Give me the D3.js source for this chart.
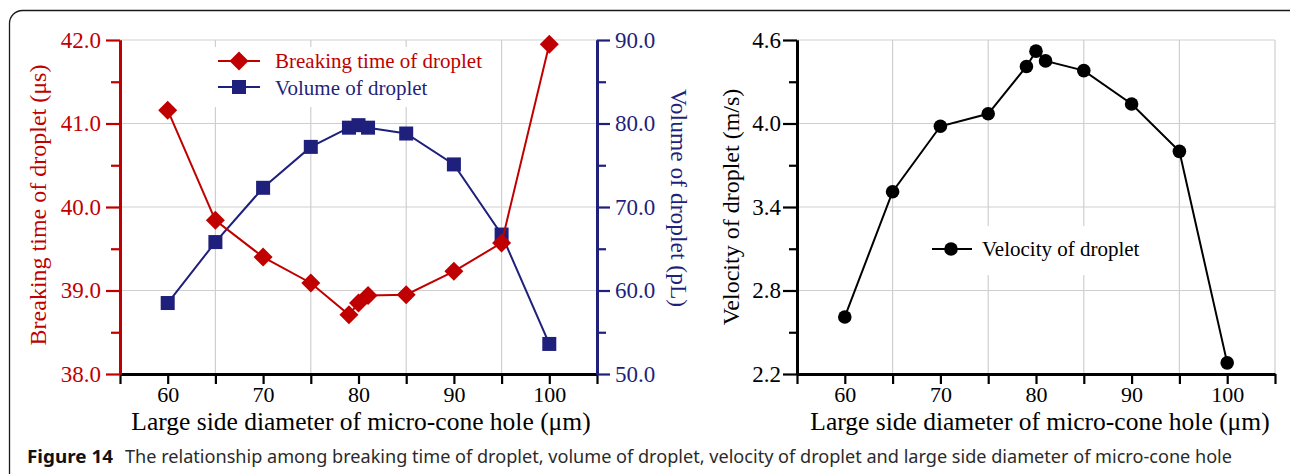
<!DOCTYPE html>
<html>
<head>
<meta charset="utf-8">
<script src="https://cdn.jsdelivr.net/npm/d3@7"></script>
<style>
  html, body { margin: 0; padding: 0; background: #ffffff; }
  svg { display: block; }
</style>
</head>
<body>
<svg id="chart" width="1290" height="474"></svg>
<script>
// ---------------- data ----------------
const diameters = [60, 65, 70, 75, 79, 80, 81, 85, 90, 95, 100];
const breakingTime = [41.16, 39.84, 39.40, 39.09, 38.71, 38.85, 38.94, 38.95, 39.23, 39.57, 41.95];
const dropletVolume = [58.5, 65.8, 72.3, 77.2, 79.5, 79.8, 79.5, 78.8, 75.1, 66.7, 53.6];
const dropletVelocity = [2.61, 3.51, 3.98, 4.07, 4.41, 4.52, 4.45, 4.38, 4.14, 3.80, 2.28];

const xDomain = [55, 105];
const xLabelTicks = [60, 70, 80, 90, 100];
const xAllTicks = [55, 60, 65, 70, 75, 80, 85, 90, 95, 100, 105];
const xGridTicks = [65, 75, 85, 95];
const timeTicks = [38, 39, 40, 41, 42];
const timeMinorTicks = [38.5, 39.5, 40.5, 41.5];
const volumeTicks = [50, 60, 70, 80, 90];
const volumeMinorTicks = [55, 65, 75, 85];
const velocityTicks = [2.2, 2.8, 3.4, 4.0, 4.6];
const velocityMinorTicks = [2.5, 3.1, 3.7, 4.3];

const xTitle = "Large side diameter of micro-cone hole (\u03bcm)";
const timeTitle = "Breaking time of droplet (\u03bcs)";
const volumeTitle = "Volume of droplet (pL)";
const velocityTitle = "Velocity of droplet (m/s)";
const legendTime = "Breaking time of droplet";
const legendVolume = "Volume of droplet";
const legendVelocity = "Velocity of droplet";
const captionBold = "Figure 14";
const captionText = "The relationship among breaking time of droplet, volume of droplet, velocity of droplet and large side diameter of micro-cone hole";

// ---------------- styles ----------------
const RED = "#c00000";
const BLUE = "#1f1f7c";
const BLACK = "#000000";
const GRID = "#cfcfcf";
const SERIF = "'Liberation Serif', 'Times New Roman', serif";

const svg = d3.select("#chart");

// outer frame
svg.append("rect")
  .attr("x", 9.5).attr("y", 10.5)
  .attr("width", 1293).attr("height", 520)
  .attr("rx", 13).attr("ry", 13)
  .attr("fill", "none").attr("stroke", "#1a1a1a").attr("stroke-width", 1.3);

// ---------------- helpers ----------------
function styleAxis(g, color, width, fontSize) {
  g.select(".domain").attr("stroke", color).attr("stroke-width", width);
  g.selectAll(".tick line").attr("stroke", color).attr("stroke-width", 2.2);
  g.selectAll(".tick text")
    .attr("fill", color)
    .style("font-family", SERIF)
    .style("font-size", fontSize + "px");
}

// ---------------- LEFT CHART ----------------
const L = { left: 120, right: 597, top: 40, bottom: 374 };
const xL = d3.scaleLinear().domain(xDomain).range([L.left, L.right]);
const yT = d3.scaleLinear().domain([38, 42]).range([L.bottom, L.top]);
const yV = d3.scaleLinear().domain([50, 90]).range([L.bottom, L.top]);

const gl = svg.append("g");

// grid
gl.selectAll("line.hg").data(timeTicks.filter(d => d !== 38)).enter().append("line")
  .attr("x1", L.left).attr("x2", L.right)
  .attr("y1", d => yT(d)).attr("y2", d => yT(d))
  .attr("stroke", GRID).attr("stroke-width", 1.2);
gl.selectAll("line.vg").data(xGridTicks).enter().append("line")
  .attr("x1", d => xL(d)).attr("x2", d => xL(d))
  .attr("y1", L.top).attr("y2", L.bottom)
  .attr("stroke", GRID).attr("stroke-width", 1.2);

// legend background
gl.append("rect").attr("x", 205).attr("y", 47).attr("width", 292).attr("height", 60).attr("fill", "#fff");

// series: volume (blue)
const lineV = d3.line().x((d, i) => xL(diameters[i])).y(d => yV(d));
gl.append("path").datum(dropletVolume).attr("d", lineV)
  .attr("fill", "none").attr("stroke", BLUE).attr("stroke-width", 2);
gl.selectAll("rect.sq").data(dropletVolume).enter().append("rect")
  .attr("x", (d, i) => xL(diameters[i]) - 7).attr("y", d => yV(d) - 7)
  .attr("width", 14).attr("height", 14).attr("fill", BLUE);

// series: breaking time (red)
const lineT = d3.line().x((d, i) => xL(diameters[i])).y(d => yT(d));
gl.append("path").datum(breakingTime).attr("d", lineT)
  .attr("fill", "none").attr("stroke", RED).attr("stroke-width", 2);
const diamond = d3.symbol().type(d3.symbolDiamond2).size(230);
gl.selectAll("path.dm").data(breakingTime).enter().append("path")
  .attr("d", diamond)
  .attr("transform", (d, i) => `translate(${xL(diameters[i])},${yT(d)})`)
  .attr("fill", RED);

// axes
const axBL = gl.append("g").attr("transform", `translate(0,${L.bottom})`)
  .call(d3.axisBottom(xL).tickValues(xAllTicks).tickSize(10).tickSizeOuter(0).tickPadding(2)
    .tickFormat(d => xLabelTicks.includes(d) ? d3.format("d")(d) : ""));
styleAxis(axBL, BLACK, 3, 22);

const axTminor = gl.append("g").attr("transform", `translate(${L.left},0)`)
  .call(d3.axisLeft(yT).tickValues(timeMinorTicks).tickSize(9).tickSizeOuter(0).tickFormat(""));
styleAxis(axTminor, RED, 3, 22);
const axT = gl.append("g").attr("transform", `translate(${L.left},0)`)
  .call(d3.axisLeft(yT).tickValues(timeTicks).tickSize(14).tickSizeOuter(0).tickPadding(5).tickFormat(d3.format(".1f")));
styleAxis(axT, RED, 3, 23);

const axVminor = gl.append("g").attr("transform", `translate(${L.right},0)`)
  .call(d3.axisRight(yV).tickValues(volumeMinorTicks).tickSize(9).tickSizeOuter(0).tickFormat(""));
styleAxis(axVminor, BLUE, 3, 22);
const axV = gl.append("g").attr("transform", `translate(${L.right},0)`)
  .call(d3.axisRight(yV).tickValues(volumeTicks).tickSize(13).tickSizeOuter(0).tickPadding(5).tickFormat(d3.format(".1f")));
styleAxis(axV, BLUE, 3, 23);

// titles
gl.append("text").attr("x", 361).attr("y", 429.5).attr("text-anchor", "middle")
  .style("font-family", SERIF).style("font-size", "25.5px").attr("fill", BLACK).text(xTitle);
gl.append("text").attr("transform", "translate(46,205) rotate(-90)").attr("text-anchor", "middle")
  .style("font-family", SERIF).style("font-size", "24px").attr("fill", RED).text(timeTitle);
gl.append("text").attr("transform", "translate(671,198) rotate(90)").attr("text-anchor", "middle")
  .style("font-family", SERIF).style("font-size", "23.5px").attr("fill", BLUE).text(volumeTitle);

// legend
gl.append("line").attr("x1", 218).attr("x2", 260).attr("y1", 61).attr("y2", 61).attr("stroke", RED).attr("stroke-width", 2);
gl.append("path").attr("d", diamond).attr("transform", "translate(239,61)").attr("fill", RED);
gl.append("text").attr("x", 275).attr("y", 68).style("font-family", SERIF).style("font-size", "21px").attr("fill", RED).text(legendTime);
gl.append("line").attr("x1", 218).attr("x2", 260).attr("y1", 87).attr("y2", 87).attr("stroke", BLUE).attr("stroke-width", 2);
gl.append("rect").attr("x", 232).attr("y", 80).attr("width", 14).attr("height", 14).attr("fill", BLUE);
gl.append("text").attr("x", 275).attr("y", 95).style("font-family", SERIF).style("font-size", "21px").attr("fill", BLUE).text(legendVolume);

// ---------------- RIGHT CHART ----------------
const R = { left: 797, right: 1275, top: 40, bottom: 374 };
const xR = d3.scaleLinear().domain(xDomain).range([R.left, R.right]);
const yS = d3.scaleLinear().domain([2.2, 4.6]).range([R.bottom, R.top]);

const gr = svg.append("g");

gr.selectAll("line.hg").data(velocityTicks.filter(d => d !== 2.2)).enter().append("line")
  .attr("x1", R.left).attr("x2", R.right)
  .attr("y1", d => yS(d)).attr("y2", d => yS(d))
  .attr("stroke", GRID).attr("stroke-width", 1.2);
gr.selectAll("line.vg").data(xGridTicks.concat([105])).enter().append("line")
  .attr("x1", d => xR(d)).attr("x2", d => xR(d))
  .attr("y1", R.top).attr("y2", R.bottom)
  .attr("stroke", GRID).attr("stroke-width", 1.2);

gr.append("rect").attr("x", 920).attr("y", 226).attr("width", 235).attr("height", 49).attr("fill", "#fff");

const lineS = d3.line().x((d, i) => xR(diameters[i])).y(d => yS(d));
gr.append("path").datum(dropletVelocity).attr("d", lineS)
  .attr("fill", "none").attr("stroke", BLACK).attr("stroke-width", 2);
gr.selectAll("circle.pt").data(dropletVelocity).enter().append("circle")
  .attr("cx", (d, i) => xR(diameters[i])).attr("cy", d => yS(d)).attr("r", 6.8).attr("fill", BLACK);

const axBR = gr.append("g").attr("transform", `translate(0,${R.bottom})`)
  .call(d3.axisBottom(xR).tickValues(xAllTicks).tickSize(10).tickSizeOuter(0).tickPadding(2)
    .tickFormat(d => xLabelTicks.includes(d) ? d3.format("d")(d) : ""));
styleAxis(axBR, BLACK, 3, 22);

const axSminor = gr.append("g").attr("transform", `translate(${R.left},0)`)
  .call(d3.axisLeft(yS).tickValues(velocityMinorTicks).tickSize(8).tickSizeOuter(0).tickFormat(""));
styleAxis(axSminor, BLACK, 3, 22);
const axS = gr.append("g").attr("transform", `translate(${R.left},0)`)
  .call(d3.axisLeft(yS).tickValues(velocityTicks).tickSize(14).tickSizeOuter(0).tickPadding(2).tickFormat(d3.format(".1f")));
styleAxis(axS, BLACK, 3, 23);

gr.append("text").attr("x", 1040).attr("y", 429.5).attr("text-anchor", "middle")
  .style("font-family", SERIF).style("font-size", "25.5px").attr("fill", BLACK).text(xTitle);
gr.append("text").attr("transform", "translate(739,207) rotate(-90)").attr("text-anchor", "middle")
  .style("font-family", SERIF).style("font-size", "24px").attr("fill", BLACK).text(velocityTitle);

gr.append("line").attr("x1", 932).attr("x2", 972).attr("y1", 249).attr("y2", 249).attr("stroke", BLACK).attr("stroke-width", 2);
gr.append("circle").attr("cx", 951).attr("cy", 249).attr("r", 6.8).attr("fill", BLACK);
gr.append("text").attr("x", 982).attr("y", 256).style("font-family", SERIF).style("font-size", "21px").attr("fill", BLACK).text(legendVelocity);

// ---------------- caption ----------------
svg.append("text").attr("x", 27).attr("y", 463)
  .attr("textLength", 86).attr("lengthAdjust", "spacingAndGlyphs")
  .style("font-family", "'Noto Sans', 'Open Sans', sans-serif").style("font-size", "18px")
  .style("font-weight", "bold").attr("fill", "#111").text(captionBold);
svg.append("text").attr("x", 125).attr("y", 463)
  .attr("textLength", 1107).attr("lengthAdjust", "spacingAndGlyphs")
  .style("font-family", "'Noto Sans', 'Open Sans', sans-serif").style("font-size", "18px")
  .attr("fill", "#2a2a2a").text(captionText);
</script>
</body>
</html>
